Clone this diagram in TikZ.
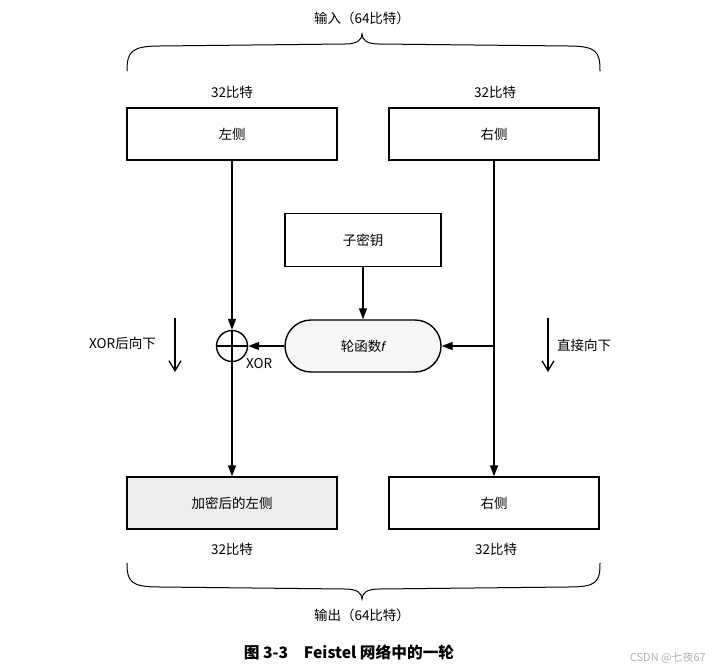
\documentclass[tikz,border=0pt]{standalone}
\usepackage{fontspec}
\setmainfont{Noto Sans CJK SC}
\newfontfamily\latinit{Liberation Sans}
\usetikzlibrary{arrows.meta,shapes.misc}
\definecolor{boxgray}{HTML}{EDEDED}
\definecolor{lightgray}{HTML}{F6F6F6}
\begin{document}
\begin{tikzpicture}[x=1pt,y=-1pt,
  txt/.style={font=\fontsize{13.5}{15}\selectfont,inner sep=0pt},
  box/.style={draw,line width=1.4pt,minimum width=210pt,minimum height=52pt,txt},
  keybox/.style={draw,line width=1.4pt,minimum width=156pt,minimum height=53pt,txt},
  roundf/.style={draw,rounded rectangle,line width=1.4pt,minimum width=156pt,minimum height=52pt,fill=lightgray,txt},
  xorc/.style={draw,circle,line width=1.4pt,minimum size=31pt,inner sep=0pt},
  conn/.style={line width=1.4pt,-{Triangle[length=11pt,width=8pt]}},
  side/.style={line width=1.3pt,-{Straight Barb[length=10pt,width=12pt,line width=1.3pt]}},
  brace/.style={line width=1pt,line cap=round}
]
\useasboundingbox[fill=white] (0,0) rectangle (719,671);

% top brace and labels
\node[txt] (inlbl) at (362,18) {输入（64比特）};
\draw[brace] (127,71) .. controls (127,52) and (131,46) .. (160,46)
  -- (345,44) .. controls (357,44) and (362,40) .. (362,34)
  .. controls (362,40) and (367,44) .. (379,44)
  -- (568,46) .. controls (597,46) and (600,52) .. (600,71);
\node[txt] (t32l) at (232,92) {32比特};
\node[txt] (t32r) at (495,92) {32比特};

% top boxes
\node[box] (L) at (232,134) {左侧};
\node[box] (R) at (494,134) {右侧};

% subkey and round function
\node[keybox] (K) at (363,240) {子密钥};
\node[roundf] (F) at (363,346) {轮函数{\latinit\itshape f}};

% XOR
\node[xorc] (X) at (232,346) {};
\draw[line width=1.4pt] (X.west) -- (X.east);
\draw[line width=1.4pt] (X.north) -- (X.south);
\node[txt,anchor=north west] (xorlbl) at (246,358) {XOR};

% bottom boxes
\node[box,fill=boxgray] (L2) at (232,503) {加密后的左侧};
\node[box] (R2) at (494,503) {右侧};

% connectors
\draw[conn] (L.south) -- (X.north);
\draw[conn] (X.south) -- (L2.north);
\draw[conn] (R.south) -- (R2.north);
\coordinate (Rj) at (R.south |- F.east);
\draw[conn] (Rj) -- (F.east);
\draw[conn] (F.west) -- (X.east);
\draw[conn] (K.south) -- (F.north);

% side annotations
\node[txt,anchor=east] (lnote) at (156,343) {XOR后向下};
\coordinate (la1) at (175,318);
\coordinate (la2) at (175,372);
\draw[side] (la1) -- (la2);
\node[txt,anchor=west] (rnote) at (557,345) {直接向下};
\coordinate (ra1) at (548,318);
\coordinate (ra2) at (548,372);
\draw[side] (ra1) -- (ra2);

% bottom labels and brace
\node[txt] (b32l) at (232,549) {32比特};
\node[txt] (b32r) at (496,549) {32比特};
\draw[brace] (127,563) .. controls (127,582) and (131,587) .. (160,587)
  -- (345,589) .. controls (357,589) and (362,593) .. (362,599)
  .. controls (362,593) and (367,589) .. (379,589)
  -- (568,587) .. controls (597,587) and (600,582) .. (600,563);
\node[txt] (outlbl) at (362,615) {输出（64比特）};

% caption
\node[font=\fontsize{15.7}{17}\selectfont\bfseries,inner sep=0pt] (cap) at (349,652) {图 3-3\hspace{1em}Feistel 网络中的一轮};
\node[font=\fontsize{11}{13}\selectfont,text=gray!60,inner sep=0pt,anchor=east] (wm) at (706,658) {CSDN @七夜67};
\end{tikzpicture}
\end{document}
